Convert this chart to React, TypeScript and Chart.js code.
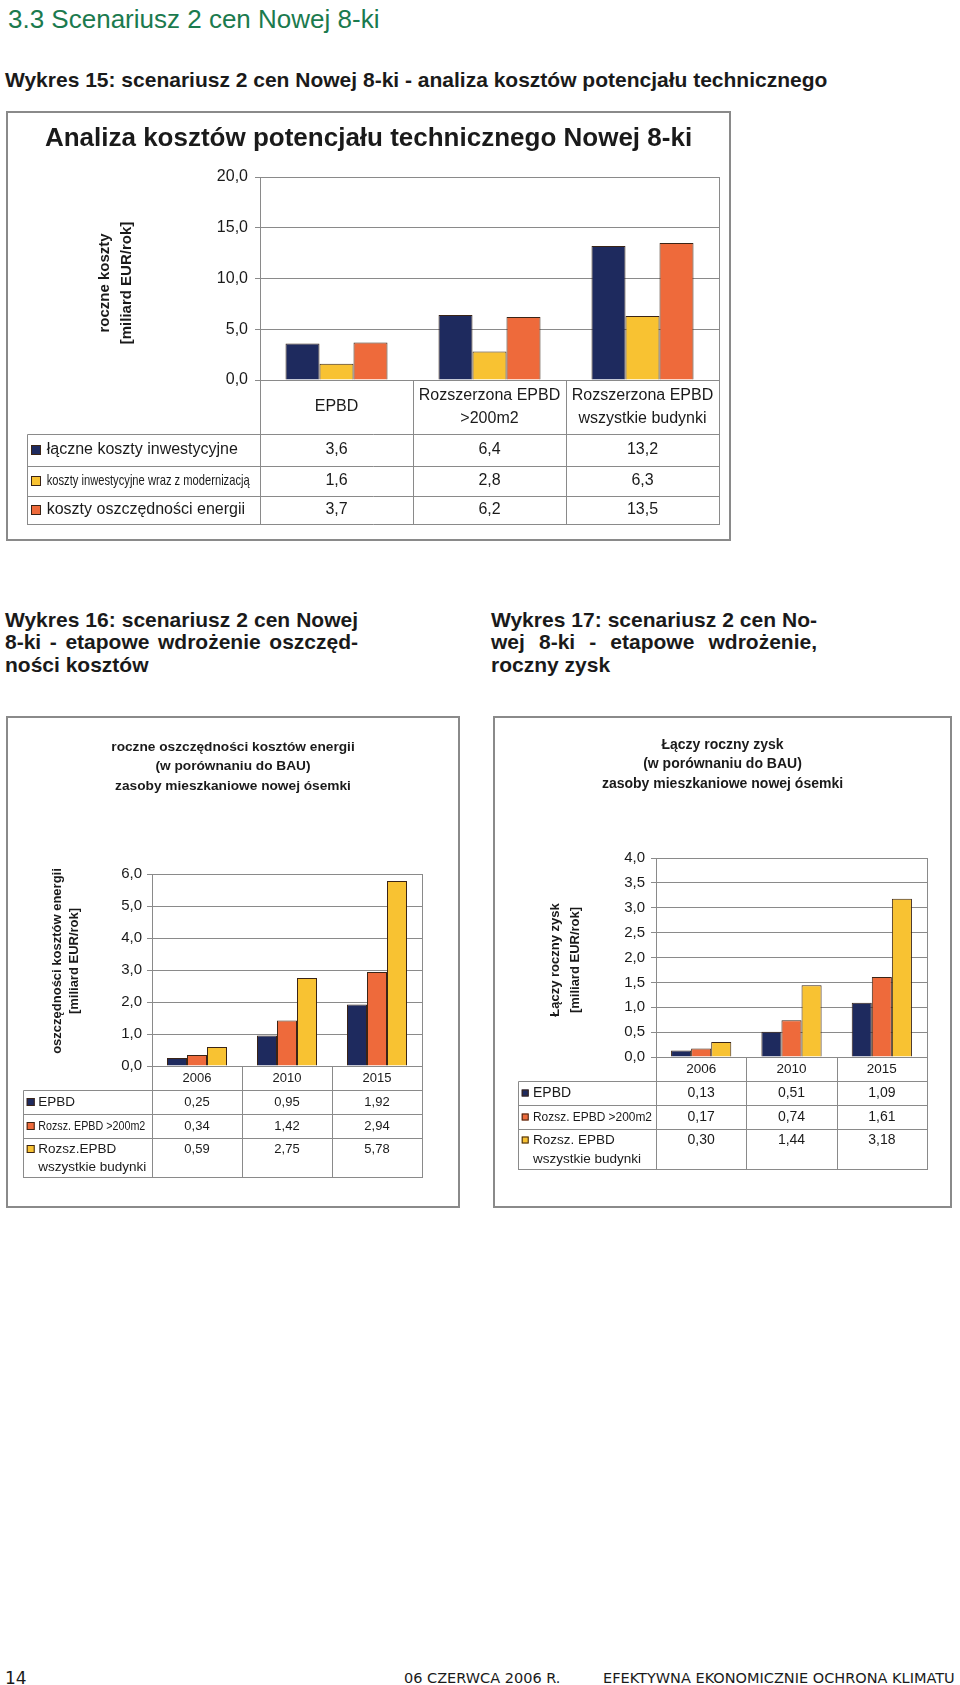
import React, { useEffect, useRef } from 'react';
import { Chart, registerables } from 'chart.js';

Chart.register(...registerables);

// ---------- data ----------
const costCategories: string[][] = [['EPBD'], ['Rozszerzona EPBD', '>200m2'], ['Rozszerzona EPBD', 'wszystkie budynki']];
const costTotalInvestmentName = ['łączne koszty inwestycyjne'];
const costModernizationName = ['koszty inwestycyjne wraz z modernizacją'];
const costEnergySavingsName = ['koszty oszczędności energii'];
const costTotalInvestment = [3.6, 6.4, 13.2];
const costModernization = [1.6, 2.8, 6.3];
const costEnergySavings = [3.7, 6.2, 13.5];
const costTitle = 'Analiza kosztów potencjału technicznego Nowej 8-ki';
const costAxisTitle = ['roczne koszty', '[miliard EUR/rok]'];
const costTicks = { min: 0, max: 20, step: 5 };

const years: string[][] = [['2006'], ['2010'], ['2015']];

const savingsTitle = ['roczne oszczędności kosztów energii', '(w porównaniu do BAU)', 'zasoby mieszkaniowe nowej ósemki'];
const savingsAxisTitle = ['oszczędności kosztów energii', '[miliard EUR/rok]'];
const savingsNameEPBD = ['EPBD'];
const savingsNameExt200 = ['Rozsz. EPBD >200m2'];
const savingsNameExtAll = ['Rozsz.EPBD', 'wszystkie budynki'];
const savingsEPBD = [0.25, 0.95, 1.92];
const savingsExt200 = [0.34, 1.42, 2.94];
const savingsExtAll = [0.59, 2.75, 5.78];
const savingsTicks = { min: 0, max: 6, step: 1 };

const profitTitle = ['Łączy roczny zysk', '(w porównaniu do BAU)', 'zasoby mieszkaniowe nowej ósemki'];
const profitAxisTitle = ['Łączy roczny zysk', '[miliard EUR/rok]'];
const profitNameEPBD = ['EPBD'];
const profitNameExt200 = ['Rozsz. EPBD >200m2'];
const profitNameExtAll = ['Rozsz. EPBD', 'wszystkie budynki'];
const profitEPBD = [0.13, 0.51, 1.09];
const profitExt200 = [0.17, 0.74, 1.61];
const profitExtAll = [0.3, 1.44, 3.18];
const profitTicks = { min: 0, max: 4, step: 0.5 };

// ---------- styles ----------
const FONT = '"Liberation Sans", Arial, Helvetica, sans-serif';
const NAVY = '#1e2a5e';
const YELLOW = '#f8c232';
const ORANGE = '#ee6a3b';
const OUTLINE = '#3a2416';
const GRID = '#8a8a8a';
const TEXT = '#1a1a1a';

type Series = { name: string[]; values: number[]; color: string };

interface Spec {
  box: { left: number; top: number; width: number; height: number };
  categories: string[][];
  series: Series[];
  decimals: number;
  ticks: { min: number; max: number; step: number };
  tickDecimals: number;
  title: { text: string | string[]; size: number; lineHeight: number; padTop: number; padBottom: number };
  yTitle: { lines: string[]; xs: number[]; y: number; size: number };
  yAxis: { width: number; tickLength: number; pad: number; size: number };
  padRight: number;
  xHeight: number;
  table: {
    left: number;
    headerH: number;
    rowHeights: number[];
    catSize: number;
    catGap: number;
    squareX: number;
    squareSize: number;
    labelX: number;
    labelFonts: { size: number; maxWidth?: number }[];
    valueSize: number;
    tallFirst: number;
    tallGap: number;
  };
}

const fmt = (v: number, d: number) => v.toFixed(d).replace('.', ',');

const costSpec: Spec = {
  box: { left: 6, top: 111, width: 725, height: 430 },
  categories: costCategories,
  series: [
    { name: costTotalInvestmentName, values: costTotalInvestment, color: NAVY },
    { name: costModernizationName, values: costModernization, color: YELLOW },
    { name: costEnergySavingsName, values: costEnergySavings, color: ORANGE },
  ],
  decimals: 1,
  ticks: costTicks,
  tickDecimals: 1,
  title: { text: costTitle, size: 26, lineHeight: 1.2, padTop: 10.4, padBottom: 22.4 },
  yTitle: { lines: costAxisTitle, xs: [97, 119], y: 170, size: 15 },
  yAxis: { width: 252, tickLength: 5, pad: 7, size: 16 },
  padRight: 10,
  xHeight: 159,
  table: {
    left: 19.3,
    headerH: 54,
    rowHeights: [32, 30, 28],
    catSize: 16,
    catGap: 22.7,
    squareX: 23,
    squareSize: 10,
    labelX: 38.7,
    labelFonts: [{ size: 16 }, { size: 15, maxWidth: 203 }, { size: 16 }],
    valueSize: 16,
    tallFirst: 11,
    tallGap: 19,
  },
};

const savingsSpec: Spec = {
  box: { left: 6, top: 716, width: 454, height: 492 },
  categories: years,
  series: [
    { name: savingsNameEPBD, values: savingsEPBD, color: NAVY },
    { name: savingsNameExt200, values: savingsExt200, color: ORANGE },
    { name: savingsNameExtAll, values: savingsExtAll, color: YELLOW },
  ],
  decimals: 2,
  ticks: savingsTicks,
  tickDecimals: 1,
  title: { text: savingsTitle, size: 13.7, lineHeight: 19.5 / 13.7, padTop: 19.25, padBottom: 78.25 },
  yTitle: { lines: savingsAxisTitle, xs: [49, 66], y: 243, size: 13 },
  yAxis: { width: 144, tickLength: 5, pad: 5, size: 15 },
  padRight: 36,
  xHeight: 140,
  table: {
    left: 14.7,
    headerH: 24,
    rowHeights: [24, 24, 39],
    catSize: 13,
    catGap: 18,
    squareX: 18.7,
    squareSize: 8,
    labelX: 30.3,
    labelFonts: [{ size: 13.5 }, { size: 13, maxWidth: 107 }, { size: 13.5 }],
    valueSize: 13,
    tallFirst: 11,
    tallGap: 18.7,
  },
};

const profitSpec: Spec = {
  box: { left: 493, top: 716, width: 459, height: 492 },
  categories: years,
  series: [
    { name: profitNameEPBD, values: profitEPBD, color: NAVY },
    { name: profitNameExt200, values: profitExt200, color: ORANGE },
    { name: profitNameExtAll, values: profitExtAll, color: YELLOW },
  ],
  decimals: 2,
  ticks: profitTicks,
  tickDecimals: 1,
  title: { text: profitTitle, size: 14, lineHeight: 19.5 / 14, padTop: 17.25, padBottom: 64.25 },
  yTitle: { lines: profitAxisTitle, xs: [60, 80], y: 242, size: 13 },
  yAxis: { width: 161, tickLength: 5, pad: 6, size: 15 },
  padRight: 23,
  xHeight: 149,
  table: {
    left: 22.7,
    headerH: 24,
    rowHeights: [24, 24, 40],
    catSize: 13.5,
    catGap: 18,
    squareX: 26.7,
    squareSize: 7,
    labelX: 38,
    labelFonts: [{ size: 14 }, { size: 13.5, maxWidth: 119 }, { size: 13.5 }],
    valueSize: 14,
    tallFirst: 11,
    tallGap: 19,
  },
};

function makePlugins(spec: Spec) {
  const tablePlugin = {
    id: 'dataTable',
    afterDraw(chart: any) {
      const ctx: CanvasRenderingContext2D = chart.ctx;
      const ca = chart.chartArea;
      const xs = chart.scales.x;
      const t = spec.table;
      const n = spec.categories.length;
      const top = ca.bottom;
      const headerBottom = top + t.headerH;
      const rowTops: number[] = [];
      let y = headerBottom;
      t.rowHeights.forEach((h) => {
        rowTops.push(y);
        y += h;
      });
      const bottom = y;
      const al = (v: number) => Math.round(v) + 0.5;

      ctx.save();
      ctx.strokeStyle = GRID;
      ctx.lineWidth = 1;
      ctx.beginPath();
      for (let i = 0; i <= n; i++) {
        const bx = al(xs.getPixelForValue(i - 0.5));
        ctx.moveTo(bx, i === n ? ca.top : top);
        ctx.lineTo(bx, al(bottom) + 0.5);
      }
      ctx.moveTo(al(t.left), al(headerBottom));
      ctx.lineTo(al(t.left), al(bottom) + 0.5);
      [headerBottom, ...rowTops.slice(1), bottom].forEach((yy) => {
        ctx.moveTo(al(t.left), al(yy));
        ctx.lineTo(al(ca.right) + 0.5, al(yy));
      });
      ctx.moveTo(al(ca.left), al(top));
      ctx.lineTo(al(ca.right) + 0.5, al(top));
      ctx.stroke();

      ctx.fillStyle = TEXT;
      ctx.textBaseline = 'middle';
      ctx.textAlign = 'center';
      ctx.font = `${t.catSize}px ${FONT}`;
      spec.categories.forEach((lines, i) => {
        const cx = xs.getPixelForValue(i);
        const y0 = top + t.headerH / 2 - ((lines.length - 1) * t.catGap) / 2;
        lines.forEach((ln, k) => ctx.fillText(ln, cx, y0 + k * t.catGap));
      });

      spec.series.forEach((s, r) => {
        const rt = rowTops[r];
        const rh = t.rowHeights[r];
        const fy = s.name.length > 1 ? rt + t.tallFirst : rt + rh / 2;
        const sq = t.squareSize;
        ctx.fillStyle = s.color;
        ctx.fillRect(t.squareX, fy - sq / 2, sq, sq);
        ctx.strokeStyle = OUTLINE;
        ctx.lineWidth = 1;
        ctx.strokeRect(t.squareX + 0.5, fy - sq / 2 + 0.5, sq - 1, sq - 1);

        ctx.fillStyle = TEXT;
        ctx.textAlign = 'left';
        const lf = t.labelFonts[r];
        ctx.font = `${lf.size}px ${FONT}`;
        s.name.forEach((ln, k) => {
          const yy = fy + k * t.tallGap;
          if (lf.maxWidth) ctx.fillText(ln, t.labelX, yy, lf.maxWidth);
          else ctx.fillText(ln, t.labelX, yy);
        });

        ctx.textAlign = 'center';
        ctx.font = `${t.valueSize}px ${FONT}`;
        s.values.forEach((v, i) => ctx.fillText(fmt(v, spec.decimals), xs.getPixelForValue(i), fy));
      });
      ctx.restore();
    },
  };

  const yTitlePlugin = {
    id: 'yAxisTitleLines',
    afterDraw(chart: any) {
      const ctx: CanvasRenderingContext2D = chart.ctx;
      const yt = spec.yTitle;
      ctx.save();
      ctx.fillStyle = TEXT;
      ctx.font = `bold ${yt.size}px ${FONT}`;
      ctx.textAlign = 'center';
      ctx.textBaseline = 'middle';
      yt.lines.forEach((ln, k) => {
        ctx.save();
        ctx.translate(yt.xs[k], yt.y);
        ctx.rotate(-Math.PI / 2);
        ctx.fillText(ln, 0, 0);
        ctx.restore();
      });
      ctx.restore();
    },
  };
  return [tablePlugin, yTitlePlugin];
}

function BarTableChart({ spec }: { spec: Spec }) {
  const ref = useRef<HTMLCanvasElement>(null);
  const cw = spec.box.width - 4;
  const ch = spec.box.height - 4;

  useEffect(() => {
    const canvas = ref.current;
    if (!canvas) return;
    const chart = new Chart(canvas, {
      type: 'bar',
      data: {
        labels: spec.categories.map((c) => c.join(' ')),
        datasets: spec.series.map((s) => ({
          label: s.name.join(' '),
          data: s.values,
          backgroundColor: s.color,
          borderColor: OUTLINE,
          borderWidth: 1,
          categoryPercentage: 3 / 4.5,
          barPercentage: 1,
          yAxisID: 'y',
        })),
      },
      options: {
        responsive: false,
        animation: false,
        devicePixelRatio: 1,
        layout: { padding: 0 },
        plugins: {
          legend: { display: false },
          tooltip: { enabled: false },
          title: {
            display: true,
            text: spec.title.text,
            color: TEXT,
            font: { family: FONT, size: spec.title.size, weight: 'bold', lineHeight: spec.title.lineHeight },
            padding: { top: spec.title.padTop, bottom: spec.title.padBottom },
          },
        },
        scales: {
          x: {
            ticks: { display: false },
            grid: { display: false },
            border: { display: true, color: GRID },
            afterFit: (s: any) => {
              s.height = spec.xHeight;
            },
          },
          y: {
            min: spec.ticks.min,
            max: spec.ticks.max,
            ticks: {
              stepSize: spec.ticks.step,
              color: TEXT,
              padding: spec.yAxis.pad,
              font: { family: FONT, size: spec.yAxis.size },
              callback: (v: any) => fmt(Number(v), spec.tickDecimals),
            },
            grid: { color: GRID, lineWidth: 1, drawTicks: true, tickLength: spec.yAxis.tickLength },
            border: { display: true, color: GRID },
            afterFit: (s: any) => {
              s.width = spec.yAxis.width;
            },
          },
          spacer: {
            type: 'linear',
            axis: 'y',
            position: 'right',
            display: true,
            ticks: { display: false },
            grid: { display: false, drawTicks: false },
            border: { display: false },
            afterFit: (s: any) => {
              s.width = spec.padRight;
            },
          },
        },
      } as any,
      plugins: makePlugins(spec) as any,
    });
    return () => chart.destroy();
  }, [spec]);

  return (
    <div
      style={{
        position: 'absolute',
        left: spec.box.left,
        top: spec.box.top,
        width: spec.box.width,
        height: spec.box.height,
        boxSizing: 'border-box',
        border: '2px solid #8a8a8a',
        background: '#fff',
      }}
    >
      <canvas ref={ref} width={cw} height={ch} style={{ position: 'absolute', left: 0, top: 0, width: cw, height: ch }} />
    </div>
  );
}

const heading: React.CSSProperties = {
  position: 'absolute',
  fontFamily: FONT,
  whiteSpace: 'nowrap',
  color: TEXT,
};

function JustifiedBlock({ left, top, width, lines }: { left: number; top: number; width: number; lines: string[] }) {
  return (
    <div style={{ position: 'absolute', left, top, width, fontFamily: FONT, fontSize: 21, fontWeight: 'bold', lineHeight: '22.5px', color: TEXT }}>
      {lines.map((ln, i) => (
        <div
          key={i}
          style={{
            whiteSpace: 'nowrap',
            textAlign: i < lines.length - 1 ? 'justify' : 'left',
            textAlignLast: i < lines.length - 1 ? 'justify' : 'left',
          } as React.CSSProperties}
        >
          {ln}
        </div>
      ))}
    </div>
  );
}

export default function App() {
  return (
    <div style={{ position: 'absolute', left: 0, top: 0, width: 960, height: 1685, background: '#fff', overflow: 'hidden' }}>
      <div style={{ ...heading, left: 8, top: 6, fontSize: 26, lineHeight: '26px', color: '#1b7a4e' }}>3.3 Scenariusz 2 cen Nowej 8-ki</div>
      <div style={{ ...heading, left: 5, top: 69, fontSize: 21, lineHeight: '21px', fontWeight: 'bold' }}>
        Wykres 15: scenariusz 2 cen Nowej 8-ki - analiza kosztów potencjału technicznego
      </div>

      <BarTableChart spec={costSpec} />

      <JustifiedBlock
        left={5}
        top={608.5}
        width={353}
        lines={['Wykres 16: scenariusz 2 cen Nowej', '8-ki - etapowe wdrożenie oszczęd-', 'ności kosztów']}
      />
      <JustifiedBlock
        left={491}
        top={608.5}
        width={326}
        lines={['Wykres 17: scenariusz 2 cen No-', 'wej 8-ki - etapowe wdrożenie,', 'roczny zysk']}
      />

      <BarTableChart spec={savingsSpec} />
      <BarTableChart spec={profitSpec} />

      <div style={{ ...heading, fontFamily: '"DejaVu Sans", Verdana, sans-serif', left: 5, top: 1669.6, fontSize: 17, lineHeight: '17px' }}>14</div>
      <div style={{ ...heading, fontFamily: '"DejaVu Sans", Verdana, sans-serif', left: 404, top: 1670.7, fontSize: 14.5, lineHeight: '14.5px' }}>
        06 CZERWCA 2006 R.
      </div>
      <div style={{ ...heading, fontFamily: '"DejaVu Sans", Verdana, sans-serif', left: 603, top: 1670.7, fontSize: 14.5, lineHeight: '14.5px' }}>
        EFEKTYWNA EKONOMICZNIE OCHRONA KLIMATU
      </div>
    </div>
  );
}
